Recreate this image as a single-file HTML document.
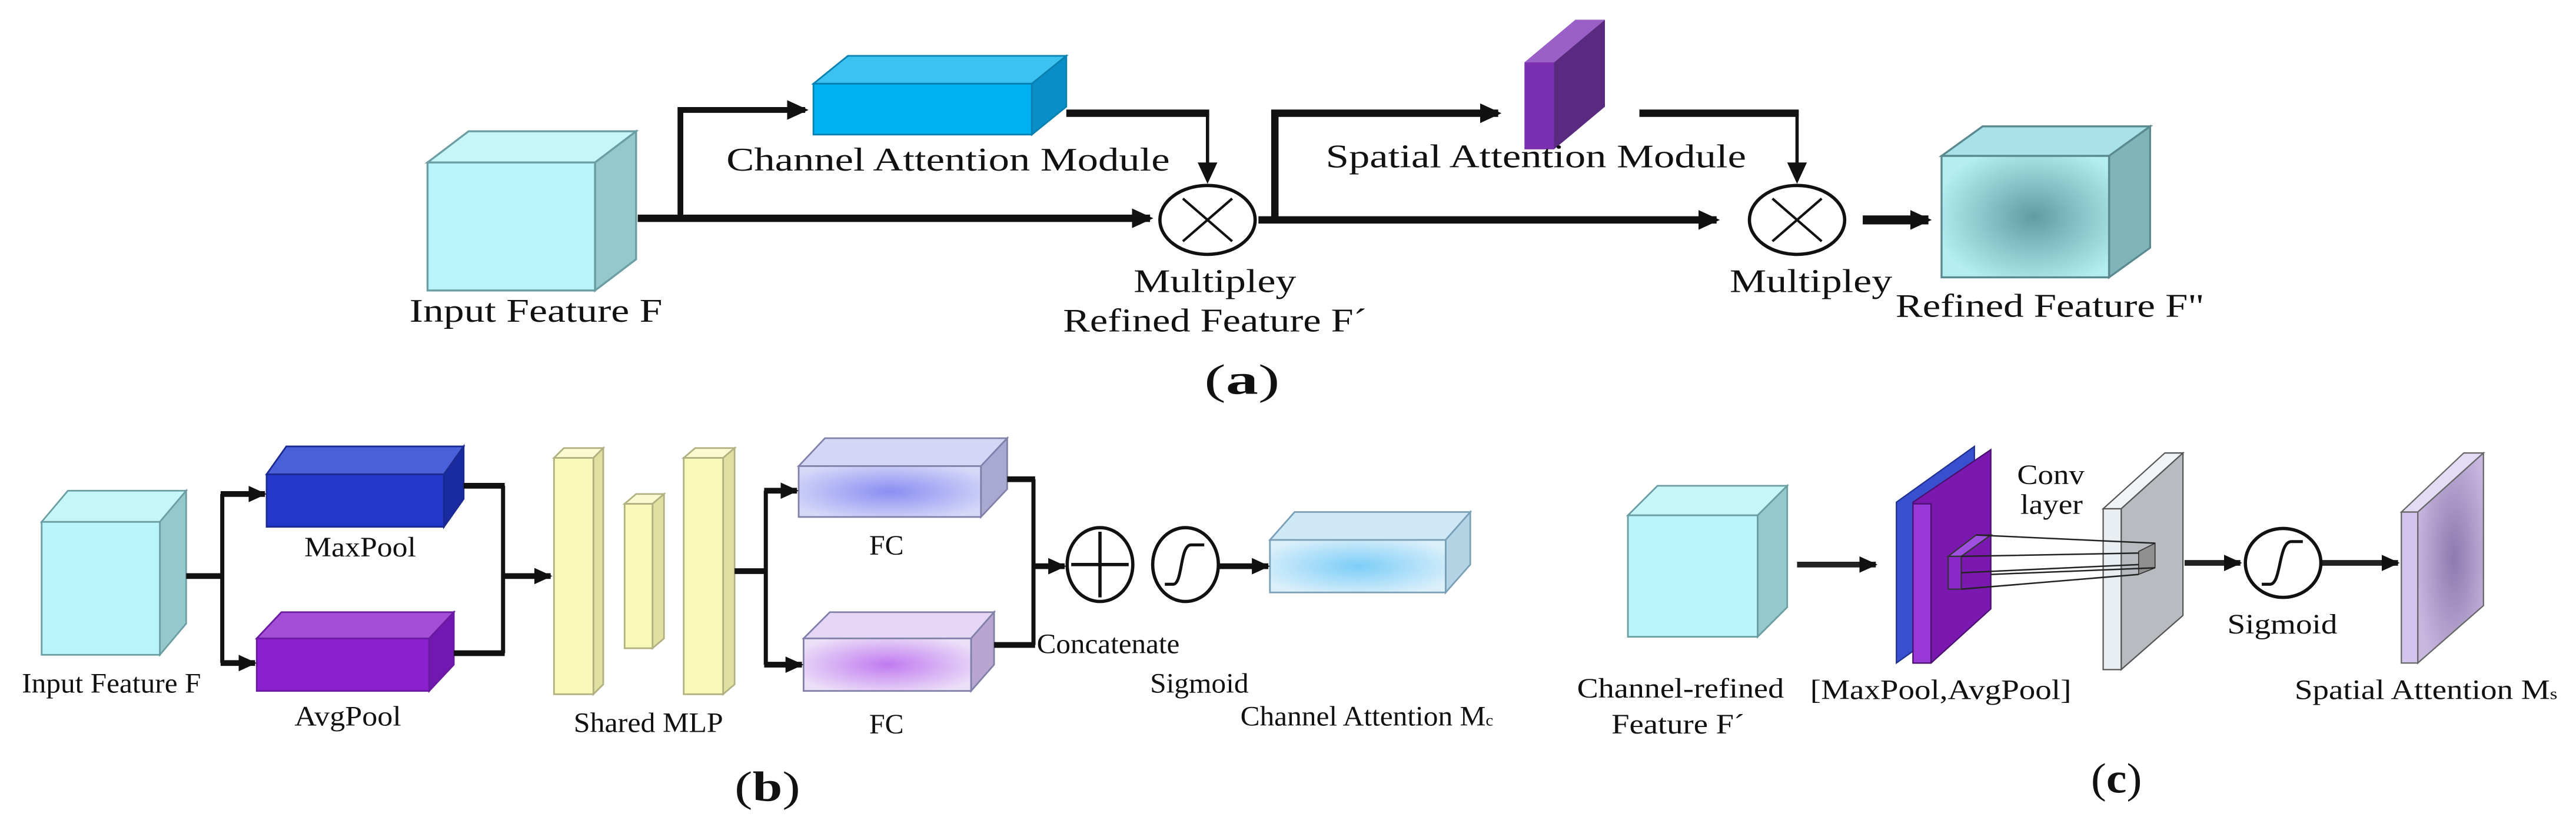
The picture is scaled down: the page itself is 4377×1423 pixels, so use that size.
<!DOCTYPE html>
<html><head><meta charset="utf-8"><style>
html,body{margin:0;padding:0;background:#fff;}
svg{display:block;}
text{font-family:"Liberation Serif",serif;fill:#111;}
</style></head><body>
<svg width="4377" height="1423" viewBox="0 0 1568 510" xmlns="http://www.w3.org/2000/svg">
<defs>
<marker id="ah" markerUnits="userSpaceOnUse" markerWidth="14" markerHeight="14" refX="11" refY="7" orient="auto"><path d="M0,1 L13,7 L0,13 z" fill="#111"/></marker>
<marker id="as" markerUnits="userSpaceOnUse" markerWidth="12" markerHeight="12" refX="10" refY="6" orient="auto"><path d="M0,1 L11,6 L0,11 z" fill="#111"/></marker>
<radialGradient id="gRef" cx="0.55" cy="0.5" r="0.6"><stop offset="0" stop-color="#5f9ca2"/><stop offset="1" stop-color="#b4eef2"/></radialGradient>
<radialGradient id="gFC1" cx="0.5" cy="0.5" r="0.6"><stop offset="0" stop-color="#8a8ef2"/><stop offset="1" stop-color="#d6d8f8"/></radialGradient>
<radialGradient id="gFC2" cx="0.5" cy="0.5" r="0.6"><stop offset="0" stop-color="#c07af0"/><stop offset="1" stop-color="#ece0f8"/></radialGradient>
<radialGradient id="gCA" cx="0.5" cy="0.5" r="0.6"><stop offset="0" stop-color="#7ccdf8"/><stop offset="1" stop-color="#dcf0fa"/></radialGradient>
<radialGradient id="gMs" cx="0.55" cy="0.5" r="0.6"><stop offset="0" stop-color="#8e7aae"/><stop offset="1" stop-color="#c8b8e0"/></radialGradient>
</defs>
<g stroke-linejoin="miter">
<!-- Panel a -->
<g stroke="#6a9ea2" stroke-width="1.2">
<polygon points="260,99 285,80 387,80 362,99" fill="#c6f6fa"/>
<polygon points="362,99 387,80 387,158 362,177" fill="#94c8cc"/>
<rect x="260" y="99" width="102" height="78" fill="#b8f4fa"/>
</g>
<g stroke="#0a80b0" stroke-width="1">
<polygon points="495,51 516,34 649,34 628,51" fill="#3cc2f0"/>
<polygon points="628,51 649,34 649,65 628,82" fill="#0a8ec8"/>
<rect x="495" y="51" width="133" height="31" fill="#00b0f0"/>
</g>
<polygon points="928,38 959,12 977,12 946,38" fill="#9a60c8"/>
<polygon points="946,38 977,12 977,65 946,91" fill="#5a2a80"/>
<rect x="928" y="38" width="18" height="53" fill="#7a30b0"/>
<g stroke="#5a8a90" stroke-width="1.2">
<polygon points="1182,95 1207,77 1309,77 1284,95" fill="#a8e2e8"/>
<polygon points="1284,95 1309,77 1309,151 1284,169" fill="#7fb4ba"/>
<rect x="1182" y="95" width="102" height="74" fill="url(#gRef)"/>
</g>
<g fill="none" stroke="#111">
<path d="M388,133 H700" stroke-width="4.5" marker-end="url(#ah)"/>
<path d="M414,134 V67 H490" stroke-width="3.5" marker-end="url(#ah)"/>
<path d="M649,69 H736" stroke-width="4.5"/>
<path d="M735,67 V110" stroke-width="2" marker-end="url(#ah)"/>
<ellipse cx="735" cy="134" rx="29" ry="21" stroke-width="2"/>
<path d="M720,121 L750,147 M750,121 L720,147" stroke-width="1.5"/>
<path d="M766,134 H1045" stroke-width="4.5" marker-end="url(#ah)"/>
<path d="M776,135 V69 H912" stroke-width="4.5" marker-end="url(#ah)"/>
<path d="M998,69 H1095" stroke-width="4.5"/>
<path d="M1094,67 V110" stroke-width="2" marker-end="url(#ah)"/>
<ellipse cx="1094" cy="134" rx="29" ry="21" stroke-width="2"/>
<path d="M1079,121 L1109,147 M1109,121 L1079,147" stroke-width="1.5"/>
<path d="M1134,134 H1174" stroke-width="5.5" marker-end="url(#ah)"/>
</g>
<g font-size="20">
<text x="249" y="196" textLength="154" lengthAdjust="spacingAndGlyphs">Input Feature F</text>
<text x="442" y="104" textLength="270" lengthAdjust="spacingAndGlyphs">Channel Attention Module</text>
<text x="807" y="102" textLength="256" lengthAdjust="spacingAndGlyphs">Spatial Attention Module</text>
<text x="690" y="178" textLength="99" lengthAdjust="spacingAndGlyphs">Multipley</text>
<text x="647" y="202" textLength="185" lengthAdjust="spacingAndGlyphs">Refined Feature F´</text>
<text x="1053" y="178" textLength="99" lengthAdjust="spacingAndGlyphs">Multipley</text>
<text x="1154" y="193" textLength="188" lengthAdjust="spacingAndGlyphs">Refined Feature F"</text>
</g>
<text x="733" y="240" font-size="26" textLength="46" lengthAdjust="spacingAndGlyphs">(<tspan font-weight="bold">a</tspan>)</text>

<!-- Panel b -->
<g stroke="#6a9ea2" stroke-width="1">
<polygon points="25,318 41,299 113,299 97,318" fill="#c6f6fa"/>
<polygon points="97,318 113,299 113,380 97,399" fill="#94c8cc"/>
<rect x="25" y="318" width="72" height="81" fill="#b8f4fa"/>
</g>
<g stroke="#1a2a90" stroke-width="1">
<polygon points="162,289 174,272 282,272 270,289" fill="#4a60d8"/>
<polygon points="270,289 282,272 282,304 270,321" fill="#1a2aa0"/>
<rect x="162" y="289" width="108" height="32" fill="#2138c8"/>
</g>
<g stroke="#6a1aa0" stroke-width="1">
<polygon points="156,389 171,373 276,373 261,389" fill="#a44ed8"/>
<polygon points="261,389 276,373 276,405 261,421" fill="#7018b0"/>
<rect x="156" y="389" width="105" height="32" fill="#8c20d0"/>
</g>
<g stroke="#b0b080" stroke-width="1">
<polygon points="337,279 343,273 367,273 361,279" fill="#fafad0"/>
<polygon points="361,279 367,273 367,417 361,423" fill="#e0e0a0"/>
<rect x="337" y="279" width="24" height="144" fill="#f8f8b8"/>
<polygon points="380,307 387,301 404,301 397,307" fill="#fafad0"/>
<polygon points="397,307 404,301 404,389 397,395" fill="#e0e0a0"/>
<rect x="380" y="307" width="17" height="88" fill="#f8f8b8"/>
<polygon points="416,279 423,273 447,273 440,279" fill="#fafad0"/>
<polygon points="440,279 447,273 447,417 440,423" fill="#e0e0a0"/>
<rect x="416" y="279" width="24" height="144" fill="#f8f8b8"/>
</g>
<g stroke="#8080a8" stroke-width="1">
<polygon points="486,284 502,267 613,267 597,284" fill="#d4d6f6"/>
<polygon points="597,284 613,267 613,298 597,315" fill="#a8a8d0"/>
<rect x="486" y="284" width="111" height="31" fill="url(#gFC1)"/>
<polygon points="489,389 505,373 605,373 591,389" fill="#e6d6f6"/>
<polygon points="591,389 605,373 605,405 591,421" fill="#b8a6d0"/>
<rect x="489" y="389" width="102" height="32" fill="url(#gFC2)"/>
</g>
<g stroke="#7aa0b8" stroke-width="1">
<polygon points="773,329 788,312 895,312 880,329" fill="#cfe8f6"/>
<polygon points="880,329 895,312 895,344 880,361" fill="#b4d4e6"/>
<rect x="773" y="329" width="107" height="32" fill="url(#gCA)"/>
</g>
<g fill="none" stroke="#111" stroke-width="3.5">
<path d="M113,351 H136"/>
<path d="M135,301 V404" stroke-width="2.5"/>
<path d="M134,301 H161" marker-end="url(#as)"/>
<path d="M134,404 H155" marker-end="url(#as)"/>
<path d="M282,296 H307"/>
<path d="M276,398 H307"/>
<path d="M306,296 V398" stroke-width="2.5"/>
<path d="M306,351 H335" marker-end="url(#as)"/>
<path d="M447,348 H467"/>
<path d="M466,299 V405" stroke-width="2.5"/>
<path d="M465,299 H485" marker-end="url(#as)"/>
<path d="M465,405 H488" marker-end="url(#as)"/>
<path d="M613,292 H630"/>
<path d="M605,393 H630"/>
<path d="M629,292 V393" stroke-width="2.5"/>
<path d="M629,345 H648" marker-end="url(#as)"/>
<path d="M742,345 H772" marker-end="url(#as)"/>
<ellipse cx="669.5" cy="344" rx="20" ry="22.5" stroke-width="2"/>
<path d="M652,344 H687 M669.5,324 V364" stroke-width="2"/>
<ellipse cx="721.6" cy="344" rx="20" ry="22.5" stroke-width="2"/>
<path d="M709,356 H714 C720,356 718,332 725,332 H733" stroke-width="1.8"/>
</g>
<g font-size="17">
<text x="13" y="422" textLength="109" lengthAdjust="spacingAndGlyphs">Input Feature F</text>
<text x="185" y="339" textLength="68" lengthAdjust="spacingAndGlyphs">MaxPool</text>
<text x="179" y="442" textLength="65" lengthAdjust="spacingAndGlyphs">AvgPool</text>
<text x="349" y="446" textLength="91" lengthAdjust="spacingAndGlyphs">Shared MLP</text>
<text x="529" y="338" textLength="21" lengthAdjust="spacingAndGlyphs">FC</text>
<text x="529" y="447" textLength="21" lengthAdjust="spacingAndGlyphs">FC</text>
<text x="631" y="398" textLength="87" lengthAdjust="spacingAndGlyphs">Concatenate</text>
<text x="700" y="422" textLength="60" lengthAdjust="spacingAndGlyphs">Sigmoid</text>
<text x="755" y="442" textLength="154" lengthAdjust="spacingAndGlyphs">Channel Attention M<tspan font-size="10">c</tspan></text>
</g>
<text x="447" y="488" font-size="26" textLength="40" lengthAdjust="spacingAndGlyphs">(<tspan font-weight="bold">b</tspan>)</text>

<!-- Panel c -->
<g stroke="#6a9ea2" stroke-width="1">
<polygon points="991,314 1009,296 1088,296 1070,314" fill="#c6f6fa"/>
<polygon points="1070,314 1088,296 1088,370 1070,388" fill="#94c8cc"/>
<rect x="991" y="314" width="79" height="74" fill="#b8f4fa"/>
</g>
<polygon points="1154.5,306 1202,272 1202,370 1154.5,404" fill="#3850d0" stroke="#203090" stroke-width="0.8"/>
<polygon points="1164.6,306 1212,274 1212,371 1175.6,404 1164.6,404" fill="#7a18b0" stroke="#4a1070" stroke-width="0.8"/>
<rect x="1164.6" y="307" width="11" height="97" fill="#9a38d8" stroke="#4a1070" stroke-width="0.8"/>
<polygon points="1186,339 1203,326 1212,326 1194,339" fill="#a050e0" stroke="#333" stroke-width="0.8"/>
<rect x="1186" y="339" width="8" height="20" fill="#8a28c8" stroke="#333" stroke-width="0.8"/>
<polygon points="1280.4,310 1318,276 1329,276 1291.4,310" fill="#f0f4f6" stroke="#555" stroke-width="0.8"/>
<polygon points="1291.4,310 1329,276 1329,375 1291.4,408" fill="#b8bcc0" stroke="#555" stroke-width="0.8"/>
<rect x="1280.4" y="310" width="11" height="98" fill="#e8eef2" stroke="#555" stroke-width="0.8"/>
<polygon points="1302,336 1312,331 1312,346 1302,350" fill="#909090" stroke="#333" stroke-width="0.6"/>
<g stroke="#222" stroke-width="0.9" fill="none">
<path d="M1203,326 L1312,331 M1194,339 L1302,337 M1194,349 L1302,344 M1194,359 L1302,350 M1212,350 L1312,346"/>
</g>
<polygon points="1462,312 1500,276 1512,276 1472,312" fill="#e4dcf4" stroke="#666" stroke-width="0.8"/>
<polygon points="1472,312 1512,276 1512,369 1472,404" fill="url(#gMs)" stroke="#666" stroke-width="0.8"/>
<rect x="1462" y="312" width="10" height="92" fill="#d2c4ec" stroke="#666" stroke-width="0.8"/>
<g fill="none" stroke="#222" stroke-width="3.5">
<path d="M1094,344 H1142" marker-end="url(#as)"/>
<path d="M1330,343 H1364" marker-end="url(#as)"/>
<path d="M1413,343 H1460" marker-end="url(#as)"/>
<ellipse cx="1390" cy="343" rx="23" ry="21" stroke="#111" stroke-width="2"/>
<path d="M1377,356 H1382 C1389,356 1387,330 1395,330 H1402" stroke="#111" stroke-width="1.8"/>
</g>
<g font-size="17">
<text x="960" y="425" textLength="126" lengthAdjust="spacingAndGlyphs">Channel-refined</text>
<text x="981" y="447" textLength="81" lengthAdjust="spacingAndGlyphs">Feature F´</text>
<text x="1102" y="426" textLength="159" lengthAdjust="spacingAndGlyphs">[MaxPool,AvgPool]</text>
<text x="1228" y="295" textLength="41" lengthAdjust="spacingAndGlyphs">Conv</text>
<text x="1230" y="313" textLength="38" lengthAdjust="spacingAndGlyphs">layer</text>
<text x="1356" y="386" textLength="67" lengthAdjust="spacingAndGlyphs">Sigmoid</text>
<text x="1397" y="426" textLength="160" lengthAdjust="spacingAndGlyphs">Spatial Attention M<tspan font-size="10">s</tspan></text>
</g>
<text x="1273" y="483" font-size="26" textLength="31" lengthAdjust="spacingAndGlyphs">(<tspan font-weight="bold">c</tspan>)</text>
</g>
</svg>
</body></html>
